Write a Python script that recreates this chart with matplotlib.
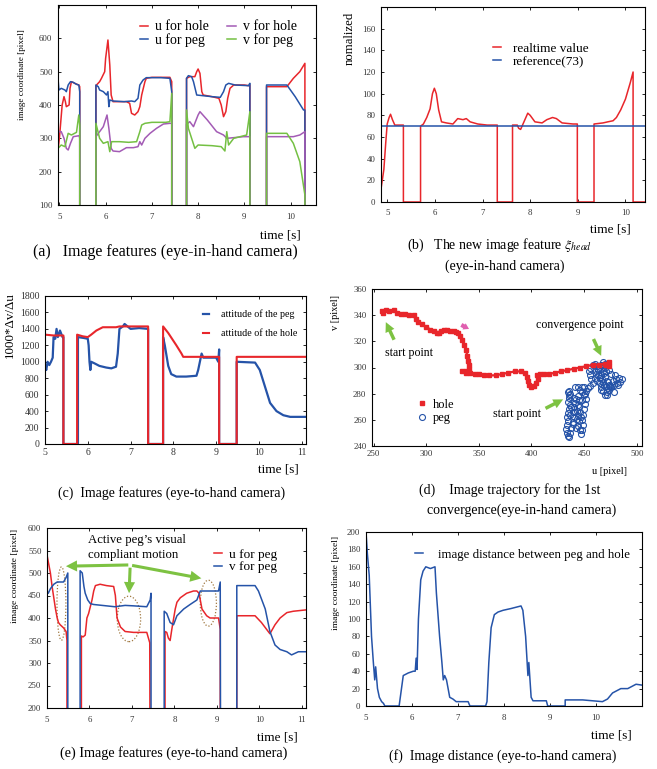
import numpy as np
import matplotlib.pyplot as plt
from matplotlib.patches import Ellipse

plt.rcParams['font.family'] = ['Liberation Serif', 'DejaVu Serif']
plt.rcParams['mathtext.fontset'] = 'stix'

RED = '#e8262b'
BLUE = '#2553a8'
PURPLE = '#a35bb5'
GREEN = '#74c043'
ARROW_GREEN = '#7dc242'

# ---------------- (a) eye-in-hand image features ----------------
a_uh_t = [4.97, 5.0, 5.06, 5.1, 5.13, 5.15, 5.21, 5.23, 5.26, 5.33, 5.42, 5.44, 5.44,
          5.79, 5.79, 5.87, 5.91, 5.98, 6.0, 6.05, 6.09, 6.12, 6.16, 6.3, 6.45, 6.52, 6.56, 6.63,
          6.70, 6.74, 6.78, 6.85, 6.88, 7.0, 7.2, 7.39, 7.43, 7.43,
          7.75, 7.75, 7.82, 7.93, 7.97, 8.0, 8.04, 8.08, 8.11, 8.3, 8.45, 8.5, 8.55, 8.6, 8.64,
          8.69, 8.77, 9.0, 9.09, 9.12, 9.12,
          9.48, 9.48, 9.7, 9.92, 10.06, 10.2, 10.31, 10.31]
a_uh_v = [265, 300, 400, 425, 410, 395, 400, 450, 470, 465, 460, 455, 0,
          0, 458, 470, 480, 500, 540, 595, 520, 430, 410, 410, 410, 405, 375, 370,
          380, 395, 430, 470, 480, 483, 483, 483, 470, 0,
          0, 480, 485, 485, 500, 508, 495, 440, 430, 425, 420, 400, 365, 380, 420,
          450, 460, 460, 458, 460, 0,
          0, 455, 455, 455, 480, 500, 525, 0]

a_up_t = [4.97, 4.99, 5.04, 5.12, 5.15, 5.19, 5.24, 5.30, 5.37, 5.42, 5.44, 5.44,
          5.79, 5.79, 5.84, 5.87, 5.95, 6.02, 6.05, 6.07, 6.09, 6.16, 6.4, 6.56, 6.63, 6.70,
          6.74, 6.81, 6.88, 7.2, 7.39, 7.43, 7.43,
          7.75, 7.75, 7.79, 7.86, 7.90, 7.97, 8.1, 8.3, 8.48, 8.55, 8.6, 8.66, 8.8, 9.09, 9.12, 9.12,
          9.48, 9.48, 9.92, 10.1, 10.28, 10.31, 10.31]
a_up_v = [480, 445, 450, 445, 440, 460, 470, 468, 462, 460, 440, 0,
          0, 460, 455, 445, 440, 430, 440, 395, 415, 412, 410, 412, 410, 420,
          460, 475, 482, 482, 480, 440, 0,
          0, 480, 488, 485, 470, 430, 428, 425, 423, 440, 460, 465, 460, 458, 465, 0,
          0, 460, 460, 425, 385, 385, 0]

a_vh_t = [4.97, 5.04, 5.1, 5.15, 5.19, 5.24, 5.30, 5.43, 5.44, 5.44,
          5.79, 5.79, 5.87, 5.95, 6.03, 6.07, 6.12, 6.16, 6.3, 6.45, 6.6, 6.7, 6.74, 6.78,
          6.85, 6.96, 7.1, 7.25, 7.39, 7.43, 7.43,
          7.75, 7.75, 7.82, 7.90, 8.0, 8.04, 8.2, 8.4, 8.55, 8.62, 8.77, 8.98, 9.12, 9.12,
          9.48, 9.48, 10.06, 10.2, 10.31, 10.31]
a_vh_v = [320, 320, 300, 270, 265, 285, 305, 308, 300, 0,
          0, 305, 320, 335, 370, 330, 270, 262, 260, 272, 272, 275, 290, 280,
          300, 315, 330, 343, 345, 345, 0,
          0, 342, 350, 335, 370, 380, 355, 320, 310, 300, 302, 305, 305, 0,
          0, 305, 305, 310, 320, 0]

a_vp_t = [4.97, 5.04, 5.12, 5.19, 5.26, 5.37, 5.42, 5.44, 5.44,
          5.79, 5.79, 5.87, 5.95, 6.05, 6.09, 6.13, 6.3, 6.5, 6.67, 6.74, 6.78, 6.85, 7.0,
          7.3, 7.39, 7.43, 7.43,
          7.75, 7.75, 7.79, 7.86, 7.93, 8.0, 8.3, 8.5, 8.58, 8.62, 8.66, 8.77, 9.05, 9.12, 9.12,
          9.48, 9.48, 9.92, 10.06, 10.2, 10.31, 10.31]
a_vp_v = [270, 280, 275, 315, 310, 318, 370, 340, 0,
          0, 345, 300, 285, 290, 260, 290, 290, 288, 290, 320, 340, 345, 348,
          348, 350, 435, 0,
          0, 385, 330, 300, 270, 280, 278, 275, 262, 320, 280, 300, 310, 380, 0,
          0, 315, 315, 285, 230, 130, 0]

# ---------------- (b) new image feature ----------------
b_t = [4.87, 4.93, 4.97, 5.0, 5.04, 5.07, 5.11, 5.16, 5.34, 5.34, 5.70, 5.70, 5.76, 5.83,
       5.9, 5.95, 5.99, 6.03, 6.08, 6.14, 6.24, 6.38, 6.48, 6.59, 6.66, 6.74, 6.9, 7.1,
       7.31, 7.31, 7.63, 7.63, 7.73, 7.76, 7.80, 7.85, 7.95, 8.0, 8.1, 8.25, 8.35, 8.47,
       8.55, 8.67, 8.9, 8.99, 8.99, 9.34, 9.34, 9.53, 9.63, 9.74, 9.81, 9.9, 10.0, 10.1,
       10.16, 10.16, 10.41]
b_v = [12, 30, 55, 72, 78, 81, 76, 71, 71, 0, 0, 70, 72, 78,
       86, 100, 105, 100, 85, 74, 73, 72, 77, 76, 77, 74, 72, 71,
       71, 0, 0, 71, 71, 68, 67, 72, 82, 80, 74, 73, 76, 78,
       77, 73, 72, 72, 0, 0, 72, 73, 74, 75, 78, 85, 95, 110,
       120, 0, 0]
b_ref_t = [4.87, 10.41]
b_ref_v = [70, 70]

# ---------------- (c) attitude, eye-to-hand ----------------
c_peg_t = [5.0, 5.03, 5.06, 5.10, 5.14, 5.18, 5.2, 5.24, 5.27, 5.3, 5.35, 5.41, 5.43, 5.43,
           5.77, 5.77, 5.9, 6.0, 6.02, 6.04, 6.06, 6.08, 6.16, 6.27, 6.43, 6.55, 6.66, 6.70,
           6.74, 6.82, 6.86, 7.0, 7.2, 7.41, 7.41,
           7.76, 7.76, 7.80, 7.88, 7.95, 8.07, 8.3, 8.54, 8.58, 8.62, 8.66, 8.70, 9.0, 9.05,
           9.07, 9.07, 9.48, 9.48, 9.91, 10.02, 10.14, 10.26, 10.41, 10.57, 10.73, 11.1]
c_peg_v = [950, 900, 1000, 960, 1000, 1050, 1300, 1280, 1400, 1300, 1380, 1300, 1300, 0,
           0, 1300, 1290, 1280, 1200, 1000, 900, 1000, 980, 950, 930, 920, 940, 1100,
           1400, 1430, 1460, 1400, 1410, 1400, 0,
           0, 1300, 1200, 950, 850, 820, 820, 830, 900, 1000, 1100, 1050, 1050, 1000,
           1150, 0, 0, 1000, 990, 900, 700, 500, 400, 350, 330, 330]
c_hole_t = [5.0, 5.2, 5.43, 5.43, 5.75, 5.75, 5.88, 6.0, 6.08, 6.2, 6.35, 6.66, 6.74, 7.41,
            7.41, 7.76, 7.76, 7.88, 8.07, 8.19, 8.23, 9.07, 9.07, 9.48, 9.48, 11.1]
c_hole_v = [1330, 1320, 1320, 0, 0, 1330, 1310, 1300, 1330, 1380, 1420, 1420, 1430, 1430,
            0, 0, 1430, 1350, 1200, 1100, 1060, 1060, 0, 0, 1060, 1060]

# ---------------- (d) image trajectory ----------------
d_hole_u = [258, 259, 262, 265, 269, 272, 276, 280, 284, 288, 290, 292, 296, 300, 304, 307,
            310, 312, 314, 317, 320, 323, 326, 328, 330, 332, 334, 336, 338, 339, 340, 341,
            341, 338, 334, 338, 342, 346, 350, 355, 360, 366, 372, 378, 384, 390, 394, 396,
            397, 398, 400, 402, 404, 406, 405, 408, 412, 417, 422, 428, 434, 440, 446, 452,
            458, 464, 470, 474, 474, 471]
d_hole_v = [343, 342, 344, 343, 344, 342, 341, 341, 340, 340, 337, 335, 333, 331, 329, 328,
            326, 326, 328, 329, 329, 328, 328, 327, 326, 324, 321, 317, 313, 309, 305, 302,
            299, 297, 297, 296, 296, 295, 295, 294, 294, 294, 295, 296, 297, 297, 296, 293,
            290, 287, 285, 286, 288, 291, 294, 295, 295, 295, 296, 297, 298, 299, 300, 301,
            302, 302, 303, 304, 301, 302]
d_peg_u = [435, 436, 437, 436, 436, 435, 437, 436, 435, 434, 435, 434, 433, 434, 435, 436,
           437, 438, 439, 440, 439, 440, 441, 442, 444, 445, 444, 443, 444, 445, 444, 446,
           447, 448, 449, 448, 449, 450, 451, 452, 450, 448, 446, 448, 450, 444, 441, 452,
           454, 456, 458, 457, 456, 455, 456, 458, 460, 462, 463, 461, 460, 462, 465, 467,
           466, 468, 470, 472, 471, 470, 472, 474, 476, 474, 472, 470, 468, 466, 469, 473,
           477, 480, 483, 486, 484, 481, 478, 475, 473, 471, 468, 465, 463, 461, 464, 466,
           468, 470, 438, 441, 443, 446, 439, 442, 447, 437, 440, 445, 448, 451, 476, 479,
           482, 474, 469, 466, 478, 472]
d_peg_v = [281, 282, 280, 279, 277, 274, 271, 268, 265, 262, 259, 256, 253, 250, 248, 247,
           250, 254, 258, 262, 266, 270, 273, 276, 278, 275, 271, 267, 263, 259, 255, 252,
           249, 252, 256, 260, 264, 268, 272, 276, 279, 281, 283, 285, 285, 285, 285, 282,
           284, 286, 288, 291, 294, 297, 300, 302, 303, 301, 298, 295, 292, 290, 288, 291,
           294, 297, 300, 302, 297, 293, 290, 287, 285, 283, 281, 279, 282, 285, 287, 289,
           290, 291, 292, 291, 289, 288, 287, 286, 284, 286, 289, 292, 294, 297, 300, 302,
           304, 303, 270, 266, 261, 266, 257, 254, 262, 264, 277, 270, 275, 280, 295, 294,
           287, 298, 296, 283, 281, 279]

# ---------------- (e) peg features, eye-to-hand ----------------
e_u_t = [5.0, 5.02, 5.08, 5.12, 5.16, 5.2, 5.24, 5.27, 5.31, 5.39, 5.45, 5.47, 5.47,
         5.81, 5.81, 5.85, 5.90, 5.94, 5.98, 6.02, 6.06, 6.10, 6.14, 6.25, 6.4, 6.57, 6.61,
         6.65, 6.73, 6.84, 7.04, 7.35, 7.42, 7.43,
         7.78, 7.78, 7.82, 7.86, 7.90, 7.94, 8.02, 8.06, 8.14, 8.29, 8.45, 8.53, 8.58, 8.61,
         8.65, 8.76, 8.84, 9.04, 9.08, 9.08,
         9.47, 9.47, 9.9, 10.05, 10.25, 10.37, 10.49, 10.65, 10.8, 11.1]
e_u_v = [540, 530, 500, 470, 445, 420, 400, 390, 385, 378, 370, 350, 0,
         0, 360, 358, 362, 400, 410, 425, 440, 460, 472, 475, 472, 470, 450,
         400, 380, 370, 368, 368, 345, 0,
         0, 370, 368, 355, 350, 375, 420, 435, 445, 455, 460, 460, 455, 440,
         420, 405, 400, 400, 375, 0,
         0, 405, 405, 390, 365, 385, 400, 412, 415, 418]
e_v_t = [5.0, 5.03, 5.08, 5.16, 5.24, 5.39, 5.45, 5.49, 5.49,
         5.78, 5.78, 5.83, 5.87, 5.9, 5.96, 6.02, 6.1, 6.3, 6.6, 6.84, 7.04, 7.35, 7.43, 7.45, 7.45,
         7.76, 7.76, 7.82, 7.9, 7.98, 8.02, 8.06, 8.22, 8.37, 8.53, 8.61, 8.8, 9.04, 9.08, 9.09,
         9.47, 9.47, 9.9, 9.98, 10.14, 10.25, 10.37, 10.49, 10.65, 10.76, 10.92, 11.1]
e_v_v = [460, 455, 465, 475, 480, 480, 490, 500, 0,
         0, 505, 500, 470, 455, 440, 432, 430, 428, 425, 428, 427, 425, 440, 455, 0,
         0, 415, 410, 390, 385, 395, 405, 420, 430, 440, 460, 460, 460, 480, 0,
         0, 472, 472, 460, 420, 370, 340, 330, 325, 318, 325, 325]

# ---------------- (f) image distance ----------------
f_t = [5.0, 5.03, 5.07, 5.12, 5.16, 5.19, 5.21, 5.25, 5.29, 5.34, 5.38, 5.41, 5.72, 5.81,
       5.92, 6.03, 6.07, 6.09, 6.11, 6.14, 6.19, 6.24, 6.3, 6.4, 6.5, 6.53, 6.6, 6.65, 6.68,
       6.71, 6.75, 6.82, 6.89, 6.96, 7.22, 7.26, 7.6, 7.63, 7.67, 7.72, 7.79, 7.87, 7.98,
       8.15, 8.37, 8.41, 8.47, 8.52, 8.54, 8.59, 8.63, 8.92, 8.95, 9.33, 9.33, 9.71, 10.14,
       10.25, 10.36, 10.54, 10.69, 10.87, 11.0]
f_d = [200, 175, 150, 80, 50, 30, 45, 20, 10, 5, 3, 0, 0, 35,
       38, 40, 40, 55, 42, 100, 145, 155, 160, 158, 160, 130, 80, 50, 30,
       35, 30, 10, 8, 5, 5, 0, 0, 5, 50, 90, 105, 108, 110,
       112, 115, 110, 80, 35, 50, 10, 6, 6, 0, 0, 7, 7, 5,
       8, 15, 20, 20, 25, 24]

W, H = 657, 769
fig = plt.figure(figsize=(W / 100, H / 100), dpi=100)


def box(l, t, r, b):
    return fig.add_axes([l / W, 1 - b / H, (r - l) / W, (b - t) / H])


def style(ax, size=6.3, xpad=3, ypad=3):
    ax.tick_params(direction='in', top=True, right=True, length=2.5, width=0.6,
                   labelsize=size, labelcolor='#333333')
    ax.tick_params(axis='x', pad=xpad)
    ax.tick_params(axis='y', pad=ypad)
    for s in ax.spines.values():
        s.set_linewidth(0.8)


def ftext(x, y, s, size, **kw):
    fig.text(x / W, 1 - y / H, s, fontsize=size, ha=kw.pop('ha', 'center'),
             va=kw.pop('va', 'center'), **kw)


# (a)
ax = box(58, 5, 316, 205)
ax.plot(a_uh_t, a_uh_v, color=RED, lw=1.1, label='u for hole')
ax.plot(a_up_t, a_up_v, color=BLUE, lw=1.1, label='u for peg')
ax.plot(a_vh_t, a_vh_v, color=PURPLE, lw=1.1, label='v for hole')
ax.plot(a_vp_t, a_vp_v, color=GREEN, lw=1.1, label='v for peg')
ax.set_xlim(4.97, 10.55)
ax.set_ylim(100, 700)
ax.set_xticks([5, 6, 7, 8, 9, 10])
ax.set_yticks([100, 200, 300, 400, 500, 600])
style(ax, xpad=6, ypad=4)
ax.legend(ncol=2, loc='upper left', bbox_to_anchor=(0.27, 0.985), frameon=False,
          fontsize=10, handlelength=0.6, handletextpad=0.5, labelspacing=0.0,
          columnspacing=1.3)
ftext(22, 75, 'image coordinate [pixel]', 6.6, rotation=90)
ftext(280, 236, 'time [s]', 9.5)
ftext(165, 252, '(a)   Image features (eye-in-hand camera)', 11.5)

# (b)
ax = box(381, 7, 645, 202)
ax.plot(b_t, b_v, color=RED, lw=1.1, label='realtime value')
ax.plot(b_ref_t, b_ref_v, color=BLUE, lw=1.1, label='reference(73)')
ax.set_xlim(4.87, 10.41)
ax.set_ylim(0, 180)
ax.set_xticks([5, 6, 7, 8, 9, 10])
ax.set_yticks(range(0, 161, 20))
style(ax, xpad=5, ypad=4)
ax.legend(loc='upper left', bbox_to_anchor=(0.38, 0.88), frameon=False, fontsize=9.5,
          handlelength=0.6, handletextpad=0.9, labelspacing=0.1)
ftext(350, 38, 'nomalized', 9.2, rotation=90)
ftext(610, 230, 'time [s]', 9.5)
ftext(500, 245, r'(b)   The new image feature $\xi_{head}$', 10)
ftext(505, 266, '(eye-in-hand camera)', 10)

# (c)
ax = box(45, 296, 306, 444)
ax.plot(c_peg_t, c_peg_v, color=BLUE, lw=1.6, label='attitude of the peg')
ax.plot(c_hole_t, c_hole_v, color=RED, lw=1.5, label='attitude of the hole')
ax.set_xlim(5, 11.1)
ax.set_ylim(0, 1800)
ax.set_xticks(range(5, 12))
ax.set_yticks(range(0, 1801, 200))
style(ax, size=7, xpad=3, ypad=4)
ax.legend(loc='upper right', bbox_to_anchor=(1.0, 0.97), frameon=False, fontsize=7.2,
          handlelength=0.6, handletextpad=1.2, labelspacing=1.0)
ftext(10, 325, '1000*Δv/Δu', 9.4, rotation=90)
ftext(278, 469, 'time [s]', 9.5)
ftext(172, 493, '(c)  Image features (eye-to-hand camera)', 10)

# (d)
ax = box(372, 289, 642, 446)
ax.plot(d_peg_u, d_peg_v, 'o', ms=4.3, mfc='none', mec=BLUE, mew=0.8, label='peg')
ax.plot(d_hole_u, d_hole_v, '-', color=RED, lw=1.6, solid_capstyle='butt')
ax.plot(d_hole_u, d_hole_v, 's', color=RED, ms=2.6, label='hole')
ax.set_xlim(248.5, 505)
ax.set_ylim(240, 360)
ax.set_xticks(range(250, 501, 50))
ax.set_yticks(range(240, 361, 20))
style(ax, xpad=3, ypad=4)
h, l = ax.get_legend_handles_labels()
ax.legend([h[1], h[0]], [l[1], l[0]], loc='center left', bbox_to_anchor=(0.12, 0.22),
          frameon=False, fontsize=9, handlelength=1.0, handletextpad=0.4, labelspacing=0.1)
arrow_kw = dict(arrowstyle='simple,head_width=0.7,head_length=0.7,tail_width=0.25',
                color=ARROW_GREEN, lw=0)
ax.annotate('', xy=(260.5, 336.6), xytext=(270.6, 319.3), arrowprops=arrow_kw)
ax.annotate('', xy=(467.3, 307), xytext=(457.8, 323.7), arrowprops=arrow_kw)
ax.annotate('', xy=(432.4, 276.6), xytext=(411, 267.8), arrowprops=arrow_kw)
ax.annotate('', xy=(343, 328.5), xytext=(331, 333.5),
            arrowprops=dict(arrowstyle='simple,head_width=0.5,head_length=0.4,tail_width=0.3',
                            color='#e060b0', lw=0))
ax.text(283.6, 310.8, 'start point', fontsize=8.6, ha='center', va='center')
ax.text(446, 332.2, 'convergence point', fontsize=8.6, ha='center', va='center')
ax.text(386, 264.5, 'start point', fontsize=8.6, ha='center', va='center')
ftext(335, 312, 'v [pixel]', 7.4, rotation=90)
ftext(609, 471, 'u [pixel]', 7.4)
ftext(510, 490, '(d)    Image trajectory for the 1st', 10)
ftext(522, 510, 'convergence(eye-in-hand camera)', 10)

# (e)
ax = box(47, 528, 306, 708)
ax.plot(e_u_t, e_u_v, color=RED, lw=1.1, label='u for peg')
ax.plot(e_v_t, e_v_v, color=BLUE, lw=1.1, label='v for peg')
ax.set_xlim(5, 11.1)
ax.set_ylim(200, 600)
ax.set_xticks(range(5, 12))
ax.set_yticks(range(200, 601, 50))
style(ax, xpad=6, ypad=4)
ax.legend(loc='upper left', bbox_to_anchor=(0.6, 0.95), frameon=False, fontsize=9.5,
          handlelength=0.6, handletextpad=0.5, labelspacing=0.0)
for cx, cy, w, hh in [(5.34, 432, 0.21, 163), (6.93, 398, 0.55, 101), (8.8, 433, 0.38, 102)]:
    ax.add_patch(Ellipse((cx, cy), w, hh, fill=False, ls=(0, (1, 1.5)), lw=0.9,
                         ec='#a07840'))
e_kw = dict(arrowstyle='simple,head_width=0.8,head_length=0.8,tail_width=0.22',
            color=ARROW_GREEN, lw=0)
ax.annotate('', xy=(5.38, 515), xytext=(6.98, 518), arrowprops=e_kw)
ax.annotate('', xy=(6.93, 449), xytext=(6.96, 518), arrowprops=e_kw)
ax.annotate('', xy=(8.7, 487), xytext=(6.94, 518), arrowprops=e_kw)
ax.text(5.96, 573, "Active peg’s visual", fontsize=9.2, ha='left', va='center')
ax.text(5.96, 541, 'compliant motion', fontsize=9.2, ha='left', va='center')
ftext(15, 576, 'image coordinate [pixel]', 6.8, rotation=90)
ftext(277, 737, 'time [s]', 9.5)
ftext(174, 753, '(e) Image features (eye-to-hand camera)', 10.2)

# (f)
ax = box(366, 532, 642, 706)
ax.plot(f_t, f_d, color=BLUE, lw=1.1, label='image distance between peg and hole')
ax.set_xlim(5, 11)
ax.set_ylim(0, 200)
ax.set_xticks([5, 6, 7, 8, 9, 10])
ax.set_yticks(range(0, 201, 20))
style(ax, xpad=6, ypad=4)
ax.legend(loc='upper right', bbox_to_anchor=(1.0, 0.97), frameon=False, fontsize=9.3,
          handlelength=0.6, handletextpad=1.2)
ftext(336, 583, 'image coordinate [pixel]', 6.8, rotation=90)
ftext(611, 736, 'time [s]', 9.5)
ftext(503, 756, '(f)  Image distance (eye-to-hand camera)', 10)

fig.savefig('out.png', dpi=100)
